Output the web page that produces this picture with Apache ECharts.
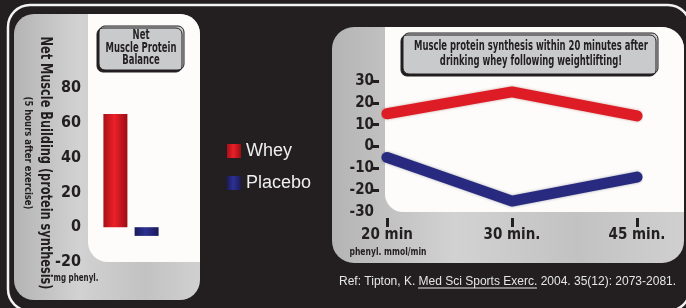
<!DOCTYPE html>
<html>
<head>
<meta charset="utf-8">
<script src="https://cdn.jsdelivr.net/npm/echarts@6/dist/echarts.min.js"></script>
<style>
  html, body { margin: 0; padding: 0; background: #231f20; }
  #main { width: 686px; height: 308px; }
</style>
</head>
<body>
<div id="main"></div>
<script>
// left chart: net balance, 5 hours after exercise
const barNames = ['Whey', 'Placebo']
const barValues = [65, -5]
const barTicks = { min: -20, max: 80, step: 20 }

// right chart: synthesis over time
const timeLabels = ['20 min', '30 min.', '45 min.']
const wheyLine = [15, 25, 14]
const placeboLine = [-5, -25, -14]
const lineTicks = { min: -30, max: 30, step: 10 }

const cond = "'DejaVu Sans Condensed', sans-serif"
const dark = '#231f20'

// squeeze a label so it takes the width it has in the poster
const ctx = document.createElement('canvas').getContext('2d')
function squeeze(text, font, want) {
  ctx.font = font
  let w = 0
  text.split('\n').forEach(t => { w = Math.max(w, ctx.measureText(t).width) })
  return want / w
}

const redBar = new echarts.graphic.LinearGradient(0, 0, 1, 0, [
  { offset: 0, color: '#a80f17' }, { offset: 0.45, color: '#ec2029' }, { offset: 1, color: '#9c0d14' }
])
const blueBar = new echarts.graphic.LinearGradient(0, 0, 1, 0, [
  { offset: 0, color: '#1a1b5c' }, { offset: 0.45, color: '#2e3192' }, { offset: 1, color: '#191a58' }
])
const metal = new echarts.graphic.LinearGradient(0, 0, 1, 0, [
  { offset: 0, color: '#b4b4b4' }, { offset: 0.35, color: '#d2d2d2' },
  { offset: 0.7, color: '#c2c2c2' }, { offset: 1, color: '#d0d0d0' }
])

function label(text, x, y, font, want, extra) {
  const f = font + ' ' + cond
  return Object.assign({
    type: 'text', z: 6, x: x, y: y, scaleX: squeeze(text, f, want),
    style: { text: text, fill: dark, align: 'center', verticalAlign: 'middle', font: f }
  }, extra || {})
}

var chart = echarts.init(document.getElementById('main'))

const leftTitle = 'Net\nMuscle Protein\nBalance'
const rightTitle = 'Muscle protein synthesis within 20 minutes after\ndrinking whey following weightlifting!'
const yName = 'Net Muscle Building (protein synthesis)'
const yName2 = '(5 hours after exercise)'

const t1 = label(leftTitle, 141, 48, 'bold 14px', 71)
t1.style.lineHeight = 12.5
const t2 = label(rightTitle, 531, 54, 'bold 14px', 234)
t2.style.lineHeight = 15

chart.setOption({
  backgroundColor: dark,
  animation: false,
  legend: {
    orient: 'vertical',
    left: 222,
    top: 137,
    itemWidth: 14,
    itemHeight: 14,
    itemGap: 14,
    icon: 'rect',
    textStyle: { color: '#eeeeee', fontSize: 18, fontFamily: 'Liberation Sans, Arial, sans-serif' },
    data: [
      { name: 'Whey', itemStyle: { color: redBar } },
      { name: 'Placebo', itemStyle: { color: blueBar } }
    ]
  },
  grid: [
    { left: 88, top: 88, width: 86, height: 174 },
    { left: 387, top: 81, width: 250, height: 131 }
  ],
  xAxis: [
    {
      gridIndex: 0, type: 'category', data: [''],
      axisLine: { show: false }, axisTick: { show: false }, axisLabel: { show: false }
    },
    {
      gridIndex: 1, type: 'category', data: timeLabels, boundaryGap: false, offset: 6,
      axisLine: { show: false, onZero: false },
      axisTick: { show: true, length: 9, lineStyle: { color: dark, width: 3 } },
      axisLabel: { margin: 10, color: dark, fontSize: 15, fontWeight: 'bold', fontFamily: cond }
    }
  ],
  yAxis: [
    {
      gridIndex: 0, type: 'value', min: barTicks.min, max: barTicks.max, interval: barTicks.step,
      axisLine: { show: false }, axisTick: { show: false },
      splitLine: { show: false },
      axisLabel: { margin: 7, color: dark, fontSize: 16, fontWeight: 'bold', fontFamily: cond }
    },
    {
      gridIndex: 1, type: 'value', min: lineTicks.min, max: lineTicks.max, interval: lineTicks.step, offset: 8,
      axisLine: { show: false },
      axisTick: { show: true, length: 7, customValues: [-20, -10, 0, 10, 20, 30], lineStyle: { color: dark, width: 3 } },
      splitLine: { show: false },
      axisLabel: { margin: 5, color: dark, fontSize: 15, fontWeight: 'bold', fontFamily: cond }
    }
  ],
  series: [
    {
      name: 'Whey', type: 'bar', xAxisIndex: 0, yAxisIndex: 0,
      barWidth: 24, barGap: '30%',
      itemStyle: { color: redBar },
      data: [barValues[0]]
    },
    {
      name: 'Placebo', type: 'bar', xAxisIndex: 0, yAxisIndex: 0,
      barWidth: 24,
      itemStyle: { color: blueBar },
      data: [barValues[1]]
    },
    {
      name: 'Whey', type: 'line', xAxisIndex: 1, yAxisIndex: 1,
      showSymbol: false, symbol: 'none',
      lineStyle: { width: 11, color: '#dd1c25', cap: 'round', join: 'round',
        shadowColor: 'rgba(120,0,0,0.35)', shadowBlur: 3 },
      data: wheyLine
    },
    {
      name: 'Placebo', type: 'line', xAxisIndex: 1, yAxisIndex: 1,
      showSymbol: false, symbol: 'none',
      lineStyle: { width: 11, color: '#272a7e', cap: 'round', join: 'round',
        shadowColor: 'rgba(0,0,60,0.35)', shadowBlur: 3 },
      data: placeboLine
    }
  ],
  graphic: [
    // outer frame
    { type: 'rect', z: -10, shape: { x: 8, y: 5, width: 682, height: 306, r: 22 },
      style: { fill: null, stroke: '#f2f2f2', lineWidth: 2.5 } },
    // left panel
    { type: 'rect', z: -9, shape: { x: 14, y: 14, width: 186, height: 286, r: 20 }, style: { fill: metal } },
    { type: 'rect', z: -8, shape: { x: 88, y: 14, width: 112, height: 248, r: [0, 20, 0, 20] }, style: { fill: '#fdfcfa' } },
    // right panel
    { type: 'rect', z: -9, shape: { x: 332, y: 27, width: 352, height: 236, r: 22 }, style: { fill: metal } },
    { type: 'rect', z: -8, shape: { x: 385, y: 27, width: 299, height: 185, r: [0, 22, 0, 18] }, style: { fill: '#fdfcfa' } },
    // title boxes
    { type: 'rect', z: 5, shape: { x: 99, y: 26, width: 85, height: 44, r: 6 },
      style: { fill: '#c9cacc', stroke: dark, lineWidth: 1, shadowColor: dark, shadowOffsetX: -2, shadowOffsetY: 2 } },
    t1,
    { type: 'rect', z: 5, shape: { x: 403, y: 33, width: 255, height: 41, r: 6 },
      style: { fill: '#c9cacc', stroke: dark, lineWidth: 1, shadowColor: dark, shadowOffsetX: -2, shadowOffsetY: 2 } },
    t2,
    // axis titles
    label(yName, 45, 163, 'bold 15px', 253, { rotation: -Math.PI / 2 }),
    label(yName2, 28, 153, 'bold 11px', 113, { rotation: -Math.PI / 2 }),
    label('mg phenyl.', 76, 278, 'bold 11px', 45),
    label('phenyl. mmol/min', 388, 252, 'bold 11px', 77),
    // reference
    { type: 'text', z: 6, x: 339, y: 282,
      style: { text: 'Ref: Tipton, K. Med Sci Sports Exerc. 2004. 35(12): 2073-2081.', fill: '#e6e6e6',
        align: 'left', verticalAlign: 'middle', font: '12px Liberation Sans, Arial, sans-serif' } },
    { type: 'line', z: 6, shape: { x1: 418, y1: 288, x2: 537, y2: 288 }, style: { stroke: '#e6e6e6', lineWidth: 1 } }
  ]
})
</script>
</body>
</html>
